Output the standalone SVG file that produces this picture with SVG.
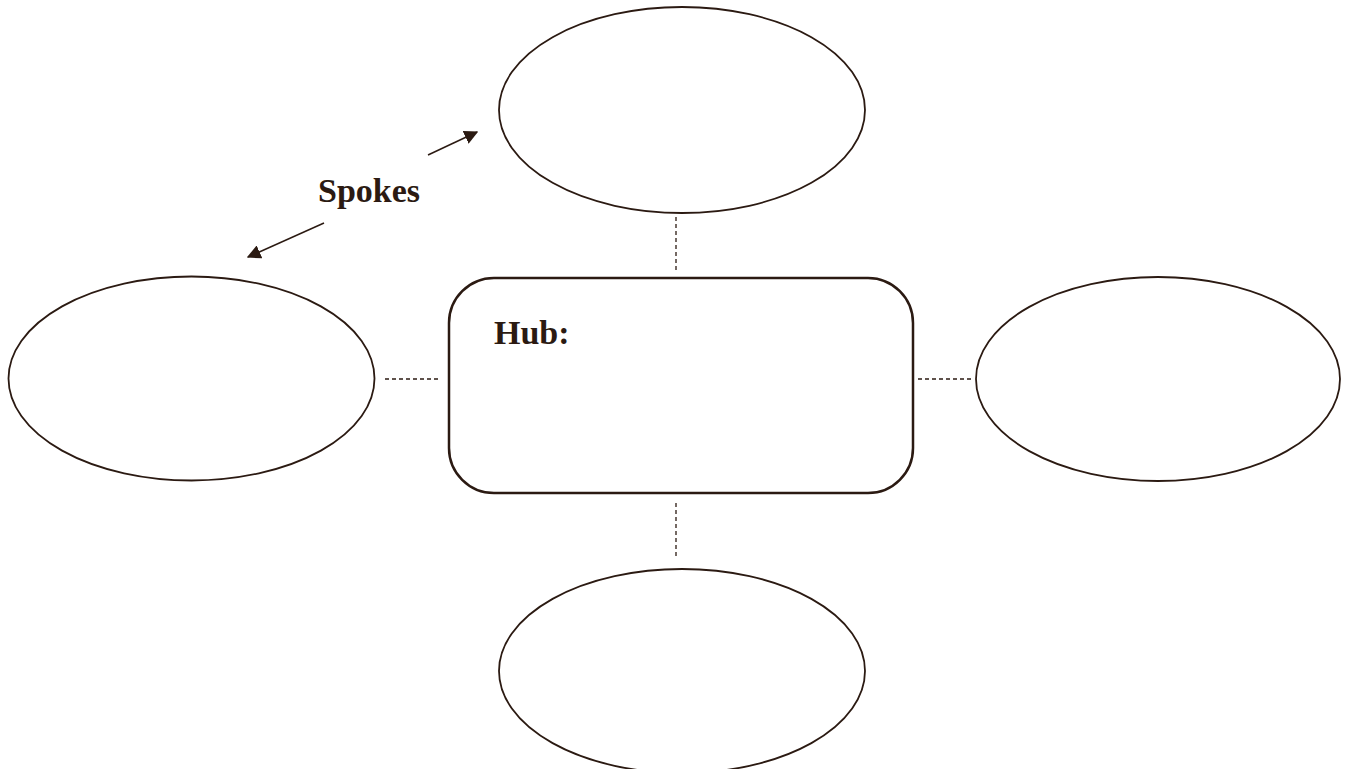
<svg xmlns="http://www.w3.org/2000/svg" width="1347" height="769" viewBox="0 0 1347 769">
<style>
.spoke{fill:#fff;stroke:#2b1a12;stroke-width:1.8}
.hub{fill:#fff;stroke:#2b1a12;stroke-width:2.5}
.dash{stroke:#2b1a12;stroke-width:1.3;stroke-dasharray:4 3;fill:none}
.arr{stroke:#2b1a12;stroke-width:1.5;fill:none;marker-end:url(#ah)}
.lbl{font-family:"Liberation Serif",serif;font-weight:bold;font-size:34px;fill:#2b1a12}
</style>
<defs>
<marker id="ah" viewBox="0 0 10 10" refX="9" refY="5" markerWidth="14" markerHeight="14" markerUnits="userSpaceOnUse" orient="auto">
<path d="M0,0 L10,5 L0,10 z" fill="#2b1a12"/>
</marker>
</defs>
<rect width="1347" height="769" fill="#fff"/>
<g id="connectors">
<line class="dash" x1="676" y1="217" x2="676" y2="272"/>
<line class="dash" x1="385" y1="379" x2="438" y2="379"/>
<line class="dash" x1="918" y1="379" x2="971" y2="379"/>
<line class="dash" x1="676" y1="503" x2="676" y2="556"/>
<line class="arr" x1="428" y1="155" x2="477" y2="132"/>
<line class="arr" x1="324" y1="223" x2="248" y2="257"/>
</g>
<g id="spoke-top"><ellipse class="spoke" cx="682" cy="110" rx="183" ry="103"/></g>
<g id="spoke-left"><ellipse class="spoke" cx="191.5" cy="378.5" rx="183" ry="102"/></g>
<g id="spoke-right"><ellipse class="spoke" cx="1158" cy="379" rx="182" ry="102"/></g>
<g id="spoke-bottom"><ellipse class="spoke" cx="682" cy="671" rx="183" ry="102"/></g>
<g id="hub">
<rect class="hub" x="449" y="278" width="464" height="215" rx="45" ry="45"/>
<text class="lbl" x="494" y="344">Hub:</text>
</g>
<g id="spokes-label"><text class="lbl" x="369" y="202" text-anchor="middle">Spokes</text></g>
</svg>
